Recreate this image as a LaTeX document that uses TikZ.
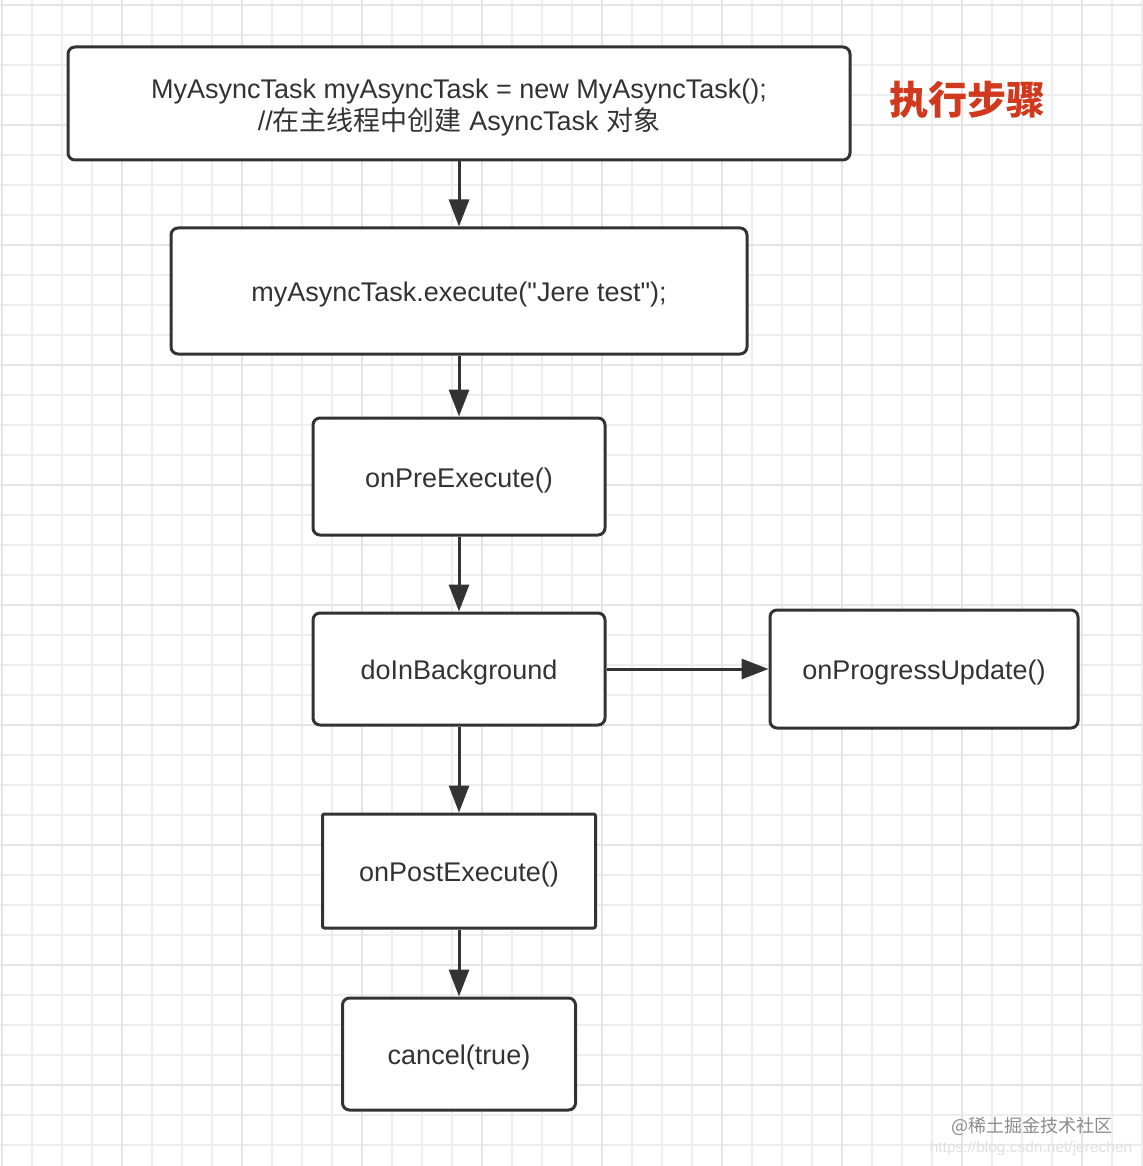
\documentclass[tikz,border=0pt]{standalone}
\usepackage{fontspec}
\setmainfont{Liberation Sans}
\newfontfamily\rawfont{Liberation Sans}
\newfontfamily\cjk{Noto Sans CJK SC}
\usetikzlibrary{arrows.meta}
\definecolor{ink}{HTML}{333333}
\definecolor{gridminor}{HTML}{EEEEEE}
\definecolor{gridmajor}{HTML}{E4E4E4}
\definecolor{titlered}{HTML}{D0391E}
\tikzset{
  box/.style={draw=ink, line width=3pt, rounded corners=7pt, fill=white, inner sep=0pt,
    align=center, text=ink, font=\fontsize{27}{32}\selectfont, text height=27pt, text depth=6pt},
  sharpbox/.style={box, rounded corners=2pt},
  flow/.style={draw=ink, line width=3pt, -{Triangle[length=27pt,width=20pt]}},
}
\begin{document}
\begin{tikzpicture}[x=1pt,y=-1pt]
\fill[white] (0,0) rectangle (1142,1166);
\useasboundingbox (0,0) rectangle (1142,1166);
% grid
\foreach \i in {0,...,38} {
  \pgfmathsetmacro{\gx}{2+30*\i}
  \draw[gridminor, line width=1.5pt] (\gx,0) -- (\gx,1166);
}
\foreach \i in {0,...,38} {
  \pgfmathsetmacro{\gy}{5+30*\i}
  \draw[gridminor, line width=1.5pt] (0,\gy) -- (1142,\gy);
}
\foreach \i in {0,...,9} {
  \pgfmathsetmacro{\gx}{2+120*\i}
  \draw[gridmajor, line width=1.8pt] (\gx,0) -- (\gx,1166);
  \pgfmathsetmacro{\gy}{5+120*\i}
  \draw[gridmajor, line width=1.8pt] (0,\gy) -- (1142,\gy);
}
% boxes
\node[box, text height=61pt, minimum width=782pt, minimum height=113pt] (b1) at (459,103.5)
  {MyAsyncTask myAsyncTask = new MyAsyncTask();\\//{\cjk 在主线程中创建} AsyncTask {\cjk 对象}};
\node[box, minimum width=576pt, minimum height=126pt] (b2) at (459,291)
  {myAsyncTask.execute({\rawfont"}Jere test{\rawfont"});};
\node[box, minimum width=292pt, minimum height=117pt] (b3) at (459,476.5) {onPreExecute()};
\node[box, minimum width=292pt, minimum height=112pt] (b4) at (459,669) {doInBackground};
\node[box, minimum width=308pt, minimum height=118pt] (b5) at (924,669) {onProgressUpdate()};
\node[sharpbox, minimum width=273pt, minimum height=114pt] (b6) at (459,871) {onPostExecute()};
\node[box, minimum width=233pt, minimum height=112pt] (b7) at (459,1054) {cancel(true)};
% connectors
\draw[flow] (b1.south) -- (b2.north);
\draw[flow] (b2.south) -- (b3.north);
\draw[flow] (b3.south) -- (b4.north);
\draw[flow] (b4.east) -- (b5.west);
\draw[flow] (b4.south) -- (b6.north);
\draw[flow] (b6.south) -- (b7.north);
% title
\node[text=titlered, font=\cjk\bfseries\fontsize{39}{44}\selectfont] (title) at (967,100) {执行步骤};
% watermark
\node[text=black!45, font=\cjk\fontsize{18}{20}\selectfont] (wm1) at (1032,1126) {@稀土掘金技术社区};
\node[text=black!12, font=\fontsize{15.5}{17}\selectfont] (wm2) at (1031,1148) {https://blog.csdn.net/jerechen};
\end{tikzpicture}
\end{document}
